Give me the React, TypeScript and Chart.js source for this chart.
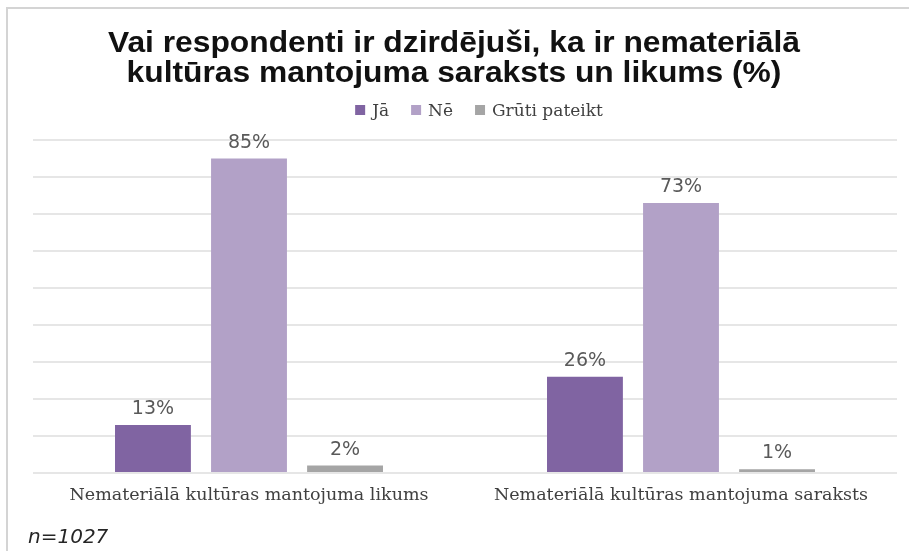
import React, { useEffect, useRef } from "react";
import { Chart, registerables } from "chart.js";

Chart.register(...registerables);

const categories = [
  "Nemateriālā kultūras mantojuma likums",
  "Nemateriālā kultūras mantojuma saraksts",
];
const seriesNames = ["Jā", "Nē", "Grūti pateikt"];
const jaValues = [13, 26];
const neValues = [85, 73];
const grutiValues = [2, 1];
const seriesColors = ["#8064a2", "#b2a1c7", "#a5a5a5"];
const titleLines = [
  "Vai respondenti ir dzirdējuši, ka ir nemateriālā",
  "kultūras mantojuma saraksts un likums (%)",
];
const yMin = 0;
const yMax = 90;
const yStep = 10;
const sampleNote = "n=1027";

const valueLabels = {
  id: "valueLabels",
  afterDatasetsDraw(chart: any) {
    const ctx = chart.ctx;
    ctx.save();
    ctx.font = "19px 'DejaVu Sans'";
    ctx.fillStyle = "#595959";
    ctx.textAlign = "center";
    ctx.textBaseline = "alphabetic";
    chart.data.datasets.forEach((ds: any, i: number) => {
      const meta = chart.getDatasetMeta(i);
      meta.data.forEach((bar: any, j: number) => {
        ctx.fillText(ds.data[j] + "%", bar.x, bar.y - 11);
      });
    });
    ctx.restore();
  },
};

const headerPlugin = {
  id: "header",
  afterDraw(chart: any) {
    const ctx = chart.ctx;
    ctx.save();
    // title
    const titleCenter = 454;
    const titleWidth = 692;
    const baselines = [52, 82];
    ctx.font = "bold 29px 'Liberation Sans Narrow', 'Liberation Sans', sans-serif";
    ctx.fillStyle = "#111111";
    ctx.textBaseline = "alphabetic";
    ctx.textAlign = "center";
    const w0 = ctx.measureText(titleLines[0]).width;
    const sx = titleWidth / w0;
    titleLines.forEach((line, i) => {
      ctx.save();
      ctx.translate(titleCenter, baselines[i]);
      ctx.scale(sx, 1);
      ctx.fillText(line, 0, 0);
      ctx.restore();
    });
    // legend
    ctx.font = "17px 'DejaVu Serif', serif";
    ctx.textAlign = "left";
    const box = 10;
    const boxGap = 7;
    const itemGap = 22;
    const widths = seriesNames.map((n) => ctx.measureText(n).width);
    const total =
      widths.reduce((a, b) => a + b, 0) +
      seriesNames.length * (box + boxGap) +
      (seriesNames.length - 1) * itemGap;
    let x = 479 - total / 2;
    const legendBaseline = 116;
    seriesNames.forEach((n, i) => {
      ctx.fillStyle = seriesColors[i];
      ctx.fillRect(x, 105, box, box);
      ctx.fillStyle = "#404040";
      ctx.fillText(n, x + box + boxGap, legendBaseline);
      x += box + boxGap + widths[i] + itemGap;
    });
    ctx.restore();
  },
};

export default function App() {
  const canvasRef = useRef<HTMLCanvasElement | null>(null);

  useEffect(() => {
    document.body.style.margin = "0";
    const canvas = canvasRef.current;
    if (!canvas) return;
    const values = [jaValues, neValues, grutiValues];
    const chart = new Chart(canvas, {
      type: "bar",
      data: {
        labels: categories,
        datasets: seriesNames.map((name, i) => ({
          label: name,
          data: values[i],
          backgroundColor: seriesColors[i],
          borderWidth: 0,
          barPercentage: 0.79,
          categoryPercentage: 0.667,
        })),
      },
      options: {
        animation: false,
        responsive: false,
        maintainAspectRatio: false,
        layout: { padding: { left: 33, right: 12, top: 140, bottom: 33 } },
        plugins: {
          title: { display: false },
          legend: { display: false },
          tooltip: { enabled: false },
        },
        scales: {
          x: {
            grid: { display: false, drawTicks: false, tickLength: 0 },
            border: { display: false },
            ticks: {
              color: "#404040",
              font: { family: "'DejaVu Serif', serif", size: 17.5 },
              padding: 12,
            },
          },
          y: {
            min: yMin,
            max: yMax,
            ticks: { display: false, stepSize: yStep },
            border: { display: false },
            grid: { color: "#e6e6e6", lineWidth: 2, drawTicks: false },
          },
        },
      },
      plugins: [valueLabels, headerPlugin],
    });
    return () => chart.destroy();
  }, []);

  return (
    <div
      style={{
        position: "absolute",
        left: 0,
        top: 0,
        width: 909,
        height: 551,
        background: "#ffffff",
        overflow: "hidden",
      }}
    >
      <div
        style={{
          position: "absolute",
          left: 6,
          top: 7,
          right: -4,
          bottom: -4,
          borderTop: "2px solid #d4d4d4",
          borderLeft: "2px solid #d4d4d4",
        }}
      />
      <canvas
        ref={canvasRef}
        width={909}
        height={551}
        style={{ position: "absolute", left: 0, top: 0 }}
      />
      <div
        style={{
          position: "absolute",
          left: 28,
          top: 524,
          fontFamily: "'DejaVu Sans', sans-serif",
          fontStyle: "italic",
          fontSize: 20,
          color: "#262626",
          lineHeight: "24px",
        }}
      >
        {sampleNote}
      </div>
    </div>
  );
}
